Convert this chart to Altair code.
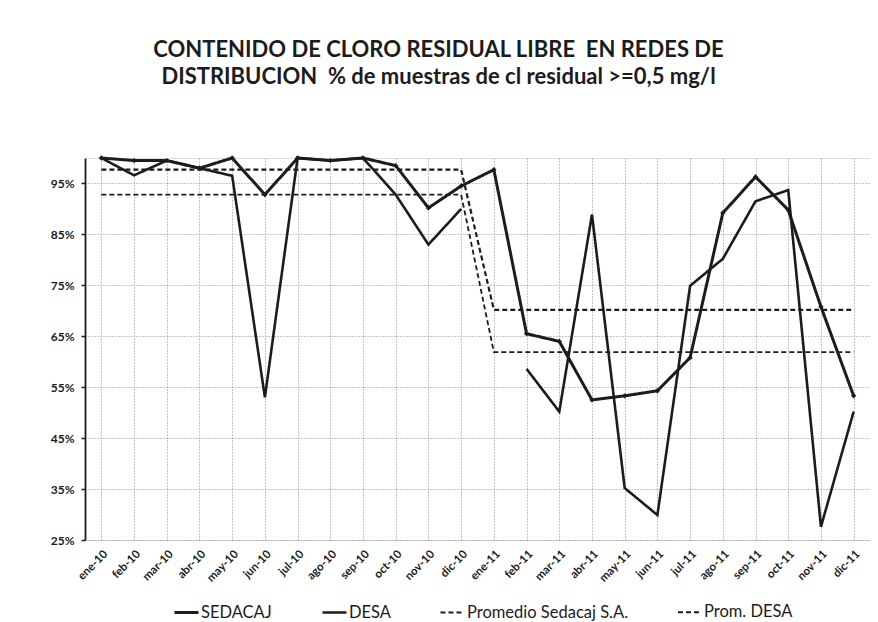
import altair as alt
import pandas as pd

meses = ["ene-10", "feb-10", "mar-10", "abr-10", "may-10", "jun-10", "jul-10", "ago-10",
         "sep-10", "oct-10", "nov-10", "dic-10", "ene-11", "feb-11", "mar-11", "abr-11",
         "may-11", "jun-11", "jul-11", "ago-11", "sep-11", "oct-11", "nov-11", "dic-11"]

sedacaj = [100, 99.5, 99.5, 98, 100, 92.8, 100, 99.5, 100, 98.5, 90.2, 94.5,
           97.7, 65.5, 64.0, 52.5, 53.3, 54.3, 60.8, 89.2, 96.3, 89.8, 70.8, 53.3]
desa = [100, 96.6, 99.5, 98, 96.5, 53.0, 100, 99.5, 100, 92.8, 83.0, 90.0,
        None, 58.6, 50.2, 88.9, 35.2, 29.9, 74.9, 80.2, 91.5, 93.7, 27.6, 50.2]
prom_sedacaj = [97.7] * 12 + [70.2] * 12
prom_desa = [92.8] * 12 + [61.9] * 12

series = ["SEDACAJ", "DESA", "Promedio Sedacaj S.A.", "Prom. DESA"]
valores = [sedacaj, desa, prom_sedacaj, prom_desa]

rows = []
for s, vals in zip(series, valores):
    for m, v in zip(meses, vals):
        rows.append({"mes": m, "serie": s, "valor": v})
df = pd.DataFrame(rows)

FONT = "Lato"
INK = "#1c1c1c"

x_enc = alt.X("mes:O", sort=meses,
              scale=alt.Scale(type="point", padding=0.5),
              axis=alt.Axis(title=None, labelAngle=-45, labelFont=FONT, labelFontSize=11.5,
                            labelFontWeight="bold", labelColor=INK, grid=True,
                            gridColor="#8a8a8a", gridDash=[1, 2], gridWidth=1,
                            domain=False, ticks=False, labelPadding=8))
y_enc = alt.Y("valor:Q",
              scale=alt.Scale(domain=[25, 100], nice=False, zero=False),
              axis=alt.Axis(title=None, values=[25, 35, 45, 55, 65, 75, 85, 95],
                            labelExpr="datum.value + '%'", labelFont=FONT, labelFontSize=12,
                            labelFontWeight="bold", labelColor=INK, grid=True,
                            gridColor="#8a8a8a", gridDash=[1, 2], gridWidth=1,
                            domain=True, domainColor=INK, domainWidth=1.8,
                            tickColor=INK, tickSize=4, tickWidth=1.5, labelPadding=7))

lines = alt.Chart(df).mark_line(invalid="break-paths-show-domains").encode(
    x=x_enc,
    y=y_enc,
    color=alt.Color("serie:N", sort=series,
                    scale=alt.Scale(domain=series, range=[INK, INK, INK, INK]),
                    legend=alt.Legend(title=None, orient="none", direction="horizontal",
                                      legendX=88, legendY=441, symbolType="stroke",
                                      symbolSize=576, labelFont=FONT, labelFontSize=16.5,
                                      labelColor=INK, columnPadding=45, labelOffset=1,
                                      labelLimit=0, symbolStrokeColor=INK)),
    strokeDash=alt.StrokeDash("serie:N", sort=series,
                              scale=alt.Scale(domain=series,
                                              range=[[1, 0], [1, 0], [5, 3], [5, 3]]),
                              legend=alt.Legend(title=None, orient="none")),
    strokeWidth=alt.StrokeWidth("serie:N", sort=series,
                                scale=alt.Scale(domain=series, range=[3, 1.8, 2.5, 2.5]),
                                legend=alt.Legend(title=None, orient="none")),
)

points = alt.Chart(df).transform_filter(alt.datum.serie == "SEDACAJ").mark_point(
    shape="diamond", filled=True, size=28, color=INK, opacity=1
).encode(x=x_enc, y=y_enc)

chart = alt.layer(lines, points).properties(
    width=785, height=382,
    autosize=alt.AutoSizeParams(type="none"),
    padding={"left": 77, "top": 150, "right": 0, "bottom": 82},
    title=alt.TitleParams(
        ["CONTENIDO DE CLORO RESIDUAL LIBRE\u00a0 EN REDES DE",
         "DISTRIBUCION\u00a0 % de muestras de cl residual >=0,5 mg/l"],
        font=FONT, fontSize=22, fontWeight="bold", color=INK,
        anchor="middle", dx=-39, offset=63, lineHeight=27),
).configure_view(stroke=None).configure(background="white")

chart.save("out.html", embed_options={"renderer": "svg", "actions": False})
